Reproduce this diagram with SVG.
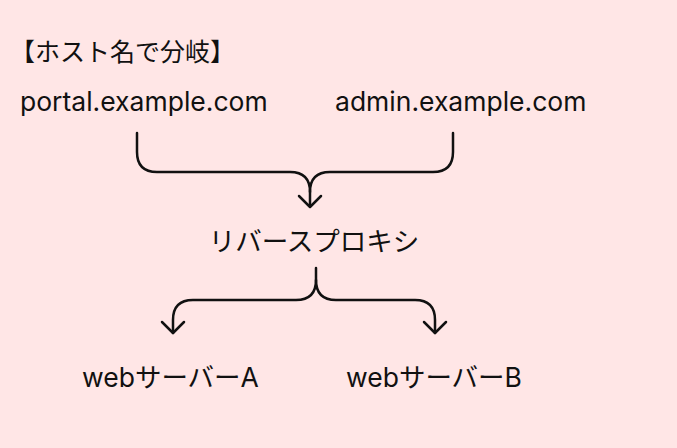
<svg xmlns="http://www.w3.org/2000/svg" width="677" height="448" viewBox="0 0 677 448">
<style>
text{font-family:Inter,"Noto Sans CJK JP",sans-serif;font-size:26.5px;fill:#111}
.c{fill:none;stroke:#111;stroke-width:2.5;stroke-linecap:round;stroke-linejoin:round}
</style>
<rect width="677" height="448" fill="#FFE6E6"/>
<g id="title"><text x="10" y="61" style="font-size:25px">【ホスト名で分岐】</text></g>
<g id="portal"><text x="20" y="111">portal.example.com</text></g>
<g id="admin"><text x="335" y="111">admin.example.com</text></g>
<g id="proxy"><text x="314" y="251" text-anchor="middle">リバースプロキシ</text></g>
<g id="webA"><text x="82" y="387">webサーバーA</text></g>
<g id="webB"><text x="346" y="387">webサーバーB</text></g>
<g id="connectors">
<path class="c" d="M137,133 V152 Q137,172 157,172 H290 Q310,172 310,192 V205"/>
<path class="c" d="M453,133 V152 Q453,172 433,172 H330 Q310,172 310,192"/>
<path class="c" d="M299,196 L310,207 L321,196"/>
<path class="c" d="M316,268 V280 Q316,300 296,300 H193 Q173,300 173,320 V333"/>
<path class="c" d="M316,280 Q316,300 336,300 H415 Q435,300 435,320 V333"/>
<path class="c" d="M162,322 L173,333 L184,322"/>
<path class="c" d="M424,322 L435,333 L446,322"/>
</g>
</svg>
